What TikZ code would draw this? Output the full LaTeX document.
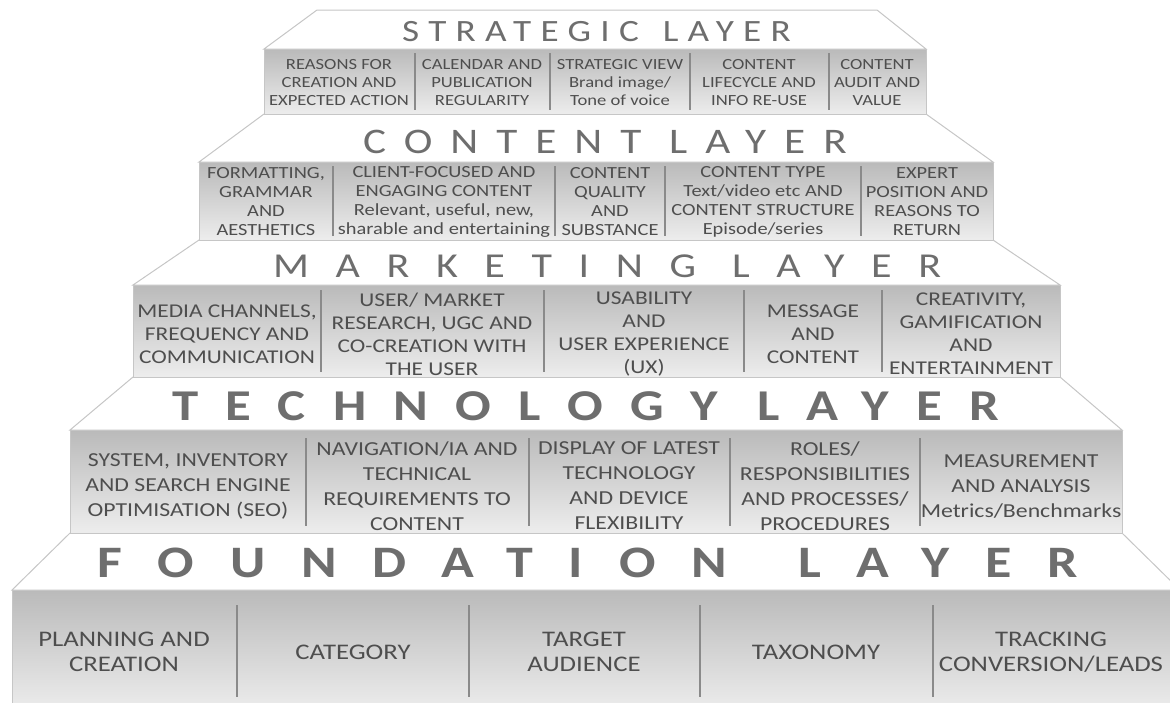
\documentclass[tikz,border=0pt]{standalone}
\usepackage{fontspec}
\setmainfont{Carlito}[FakeStretch=1.2]

\definecolor{roofgrey}{HTML}{C6C6C6}
\definecolor{boxtop}{HTML}{BABABA}
\definecolor{boxbottom}{HTML}{EDEDED}
\definecolor{dividergrey}{HTML}{8A8A8A}
\definecolor{titlegrey}{HTML}{6E6E6E}
\definecolor{cellgrey}{HTML}{4E4E4E}

\tikzset{
  roof/.style={draw=roofgrey, line width=1pt, fill=white},
  layerbox/.style={draw=roofgrey, line width=0.8pt, top color=boxtop, bottom color=boxbottom},
  divider/.style={draw=dividergrey, line width=1.1pt},
  layertitle/.style={anchor=base west, inner sep=0pt, text=titlegrey},
  cell/.style={align=center, inner sep=0pt, text=cellgrey},
}

\begin{document}
\begin{tikzpicture}[x=1pt,y=-1pt]
  \useasboundingbox (0,0) rectangle (1170,702);
  \clip (0,0) rectangle (1170,702);

  % Roofs
  \draw[roof] (317,10) -- (877,10) -- (926,49) -- (264,49) -- cycle;
  \draw[roof] (264,114) -- (926,114) -- (993,162) -- (199,162) -- cycle;
  \draw[roof] (199,240) -- (993,240) -- (1060,285) -- (133,285) -- cycle;
  \draw[roof] (133,377) -- (1060,377) -- (1122,430) -- (70,430) -- cycle;
  \draw[roof] (70,533) -- (1122,533) -- (1180,590) -- (12,590) -- cycle;

  % Boxes
  \draw[layerbox] (264,49) rectangle (926,114);
  \draw[layerbox] (199,162) rectangle (993,240);
  \draw[layerbox] (133,285) rectangle (1060,377);
  \draw[layerbox] (70,430) rectangle (1122,533);
  \draw[layerbox] (12,590) rectangle (1180,712);

  % Dividers
  \foreach \x in {415,550,690,829} \draw[divider] (\x,53) -- (\x,110);
  \foreach \x in {333,555,665,861} \draw[divider] (\x,166) -- (\x,236);
  \foreach \x in {321,544,744,882} \draw[divider] (\x,290) -- (\x,372);
  \foreach \x in {306,529,730,920} \draw[divider] (\x,438) -- (\x,526);
  \foreach \x in {237,469,700,933} \draw[divider] (\x,605) -- (\x,697);

  % Titles
  \node[layertitle, font={\fontsize{31}{31}\selectfont\addfontfeature{LetterSpace=30}}]
    (strategic) at (402,41) {STRATEGIC\hspace{0.2em} LAYER};
  \node[layertitle, font={\fontsize{36}{36}\selectfont\addfontfeature{LetterSpace=50}}]
    (content) at (363,153) {CONTENT LAYER};
  \node[layertitle, font={\fontsize{35}{35}\selectfont\addfontfeature{LetterSpace=76}}]
    (marketing) at (273,277) {MARKETING LAYER};
  \node[layertitle, font={\fontsize{44}{44}\selectfont\bfseries\addfontfeature{LetterSpace=62}}]
    (technology) at (172,420) {TECHNOLOGY LAYER};
  \node[layertitle, font={\fontsize{45}{45}\selectfont\bfseries\addfontfeature{LetterSpace=80}}]
    (foundation) at (97,577) {FOUNDATION\hspace{0.5em} LAYER};

  % Cells
  \begin{scope}[every node/.append style={font=\fontsize{15.5}{18}\selectfont}]
    \foreach \x/\txt [count=\i] in {
        339/{REASONS FOR\\CREATION AND\\EXPECTED ACTION},
        482/{CALENDAR AND\\PUBLICATION\\REGULARITY},
        620/{STRATEGIC VIEW\\Brand image/\\Tone of voice},
        759/{CONTENT\\LIFECYCLE AND\\INFO RE-USE},
        877/{CONTENT\\AUDIT AND\\VALUE}}
      \node[cell] (strategic-\i) at (\x,82.5) {\txt};
  \end{scope}
  \begin{scope}[every node/.append style={font=\fontsize{17}{19}\selectfont}]
    \foreach \x/\txt [count=\i] in {
        266/{FORMATTING,\\GRAMMAR\\AND\\AESTHETICS},
        444/{CLIENT-FOCUSED AND\\ENGAGING CONTENT\\Relevant, useful, new,\\sharable and entertaining},
        610/{CONTENT\\QUALITY\\AND\\SUBSTANCE},
        763/{CONTENT TYPE\\Text/video etc AND\\CONTENT STRUCTURE\\Episode/series},
        927/{EXPERT\\POSITION AND\\REASONS TO\\RETURN}}
      \node[cell] (content-\i) at (\x,201.5) {\txt};
  \end{scope}
  \begin{scope}[every node/.append style={font=\fontsize{19.5}{23}\selectfont}]
    \foreach \x/\txt [count=\i] in {
        227/{MEDIA CHANNELS,\\FREQUENCY AND\\COMMUNICATION},
        432/{USER/ MARKET\\RESEARCH, UGC AND\\CO-CREATION WITH\\THE USER},
        644/{USABILITY\\AND\\USER EXPERIENCE\\(UX)},
        813/{MESSAGE\\AND\\CONTENT},
        971/{CREATIVITY,\\GAMIFICATION\\AND\\ENTERTAINMENT}}
      \node[cell] (marketing-\i) at (\x,334) {\txt};
  \end{scope}
  \begin{scope}[every node/.append style={font=\fontsize{19.8}{25}\selectfont}]
    \foreach \x/\txt [count=\i] in {
        188/{SYSTEM, INVENTORY\\AND SEARCH ENGINE\\OPTIMISATION (SEO)},
        417/{NAVIGATION/IA AND\\TECHNICAL\\REQUIREMENTS TO\\CONTENT},
        629/{DISPLAY OF LATEST\\TECHNOLOGY\\AND DEVICE\\FLEXIBILITY},
        825/{ROLES/\\RESPONSIBILITIES\\AND PROCESSES/\\PROCEDURES},
        1021/{MEASUREMENT\\AND ANALYSIS\\Metrics/Benchmarks}}
      \node[cell] (technology-\i) at (\x,486) {\txt};
  \end{scope}
  \begin{scope}[every node/.append style={font=\fontsize{22.3}{25}\selectfont}]
    \foreach \x/\txt [count=\i] in {
        124/{PLANNING AND\\CREATION},
        353/{CATEGORY},
        584/{TARGET\\AUDIENCE},
        816/{TAXONOMY},
        1051/{TRACKING\\CONVERSION/LEADS}}
      \node[cell] (foundation-\i) at (\x,652) {\txt};
  \end{scope}
\end{tikzpicture}
\end{document}
